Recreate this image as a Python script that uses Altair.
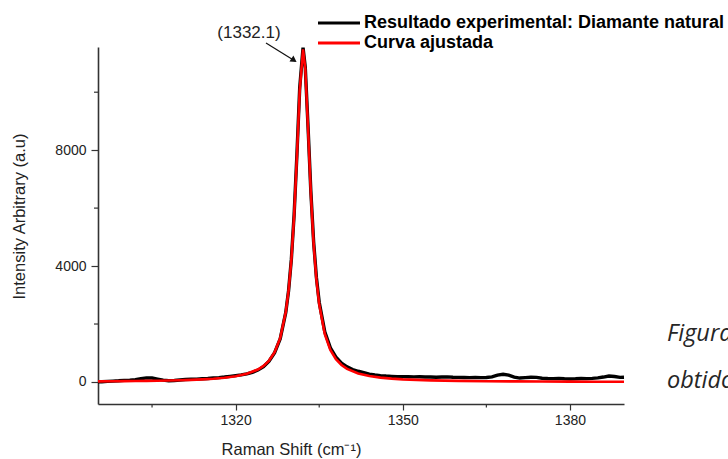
import altair as alt
import pandas as pd

# ---------------- data ----------------
fit_x = [1295.3, 1298, 1300, 1302, 1304, 1306, 1308, 1310, 1312, 1314, 1316, 1318, 1320,
         1322, 1324, 1325, 1326, 1327, 1328, 1329, 1329.5, 1330, 1330.5, 1331, 1331.5,
         1332.1, 1332.5, 1333, 1333.5, 1334, 1334.5, 1335, 1336, 1337, 1338, 1339, 1340,
         1342, 1344, 1346, 1348, 1350, 1355, 1360, 1365, 1370, 1375, 1380, 1385, 1389.7]
fit_y = [22, 25, 28, 32, 37, 43, 50, 60, 72, 89, 112, 146, 197,
         281, 431, 555, 738, 1028, 1515, 2415, 3153, 4217, 5740, 7796, 10065,
         11480, 10805, 8721, 6502, 4763, 3532, 2679, 1654, 1106, 786, 586, 452,
         292, 204, 150, 115, 91, 56, 38, 27, 20, 16, 13, 10, 9]

exp_x = [1295.3, 1296, 1297, 1298, 1299, 1300, 1301, 1302, 1303, 1304, 1305, 1306, 1307,
         1308, 1309, 1310, 1311, 1312, 1313, 1314, 1315, 1316, 1317, 1318, 1319, 1320,
         1321, 1322, 1323, 1324, 1325, 1326, 1327, 1328, 1329, 1329.5, 1330, 1330.5,
         1331, 1331.5, 1332.1, 1332.5, 1333, 1333.5, 1334, 1334.5, 1335, 1336, 1337,
         1338, 1339, 1340, 1341, 1342, 1343, 1344, 1345, 1346, 1347, 1348, 1349, 1350,
         1351, 1352, 1353, 1354, 1355, 1356, 1357, 1358, 1359, 1360, 1361, 1362, 1363,
         1364, 1365, 1366, 1367, 1368, 1369, 1370, 1371, 1372, 1373, 1374, 1375, 1376,
         1377, 1378, 1379, 1380, 1381, 1382, 1383, 1384, 1385, 1386, 1387, 1388, 1389,
         1389.7]
exp_y = [5, 10, 20, 30, 40, 55, 65, 80, 110, 140, 135, 100, 65,
         45, 50, 70, 85, 95, 100, 110, 120, 135, 150, 170, 195, 220,
         245, 280, 330, 410, 530, 720, 1010, 1490, 2400, 3150, 4230, 5780,
         7850, 10150, 11540, 10860, 8790, 6570, 4830, 3600, 2750, 1730, 1180,
         860, 650, 520, 430, 370, 320, 270, 240, 220, 205, 195, 185, 185,
         180, 175, 180, 170, 172, 165, 170, 175, 165, 160, 155, 150, 160,
         150, 155, 175, 235, 265, 235, 170, 135, 150, 165, 160, 130, 120,
         115, 125, 110, 105, 110, 120, 115, 125, 140, 170, 205, 190, 160,
         165]

x_major = [1320, 1350, 1380]
x_minor = [1305, 1335, 1365]
y_major = [0, 4000, 8000]
y_minor = [2000, 6000, 10000]
x_domain = [1295.3, 1389.7]
y_domain = [-760, 11560]

series_names = ["Resultado experimental: Diamante natural", "Curva ajustada"]
series_colors = ["#000000", "#ff0000"]
peak_label = ["(1332.1)"]
x_title = "Raman Shift (cm⁻¹)"
y_title = "Intensity Arbitrary (a.u)"
side_text = ["Figura", "obtido"]

# ---------------- layout ----------------
W, H = 526, 357
AX = "#333333"
FONT = "Liberation Sans"

xs = alt.Scale(domain=x_domain, nice=False, zero=False)
ys = alt.Scale(domain=y_domain, nice=False, zero=False)

xaxis = alt.Axis(values=x_major, format="d", title=x_title, tickSize=6, labelPadding=3,
                 titleX=193, titleY=45, titleAlign="center", titleBaseline="middle",
                 grid=False)
yaxis = alt.Axis(values=y_major, format="d", title=y_title, tickSize=7, labelPadding=5,
                 titleX=-79, titleY=169, titleAlign="center", titleBaseline="middle",
                 grid=False)

df_exp = pd.DataFrame({"x": exp_x, "y": exp_y})
df_fit = pd.DataFrame({"x": fit_x, "y": fit_y})

exp_line = alt.Chart(df_exp).mark_line(color=series_colors[0], strokeWidth=3.4).encode(
    x=alt.X("x:Q", scale=xs, axis=xaxis), y=alt.Y("y:Q", scale=ys, axis=yaxis))
fit_line = alt.Chart(df_fit).mark_line(color=series_colors[1], strokeWidth=2.6).encode(
    x=alt.X("x:Q", scale=xs, axis=xaxis), y=alt.Y("y:Q", scale=ys, axis=yaxis))

xminor = alt.Chart(pd.DataFrame({"x": x_minor})).mark_rule(color=AX, strokeWidth=1.2).encode(
    x=alt.X("x:Q", scale=xs, axis=xaxis), y=alt.value(H), y2=alt.value(H + 3.5))
yminor = alt.Chart(pd.DataFrame({"y": y_minor})).mark_rule(color=AX, strokeWidth=1.2).encode(
    y=alt.Y("y:Q", scale=ys, axis=yaxis), x=alt.value(-4), x2=alt.value(0))

# legend (custom)
leg_layers = []
for i, (name, col) in enumerate(zip(series_names, series_colors)):
    ly = -24 + i * 20
    d = pd.DataFrame({"label": [name]})
    leg_layers.append(alt.Chart(d).mark_rule(color=col, strokeWidth=3.2).encode(
        x=alt.value(220), x2=alt.value(262), y=alt.value(ly)))
    leg_layers.append(alt.Chart(d).mark_text(align="left", baseline="middle", font=FONT,
                                             fontSize=18, fontWeight="bold", color="#000").encode(
        x=alt.value(266), y=alt.value(ly), text="label:N"))

# peak annotation
pk = pd.DataFrame({"label": peak_label})
peak_text = alt.Chart(pk).mark_text(align="center", baseline="middle", font=FONT, fontSize=17,
                                    color="#222").encode(
    x=alt.value(151), y=alt.value(-14), text="label:N")
arrow_line = alt.Chart(pk).mark_rule(color="#111", strokeWidth=1.2).encode(
    x=alt.value(168), y=alt.value(-4), x2=alt.value(197), y2=alt.value(14))
arrow_head = alt.Chart(pk).mark_point(shape="triangle-up", filled=True, color="#111",
                                      size=50, angle=123.7, opacity=1).encode(
    x=alt.value(196), y=alt.value(13.2))

# surrounding document text at the right edge
side_layers = []
for i, t in enumerate(side_text):
    side_layers.append(alt.Chart(pd.DataFrame({"t": [t]})).mark_text(
        align="left", baseline="middle", font="Open Sans", fontSize=23.5, fontStyle="italic",
        color="#262626").encode(x=alt.value(569), y=alt.value(287 + i * 47), text="t:N"))

chart = alt.layer(
    exp_line, fit_line, xminor, yminor, *leg_layers, peak_text, arrow_line, arrow_head,
    *side_layers
).properties(
    width=W, height=H,
    padding={"left": 98, "top": 47, "right": 104, "bottom": 55},
    autosize=alt.AutoSizeParams(type="none"),
    background="white",
).configure_view(stroke="transparent").configure_axis(
    domainColor=AX, domainWidth=1.6, tickColor=AX, tickWidth=1.2,
    labelFont=FONT, labelFontSize=14, labelColor="#222",
    titleFont=FONT, titleFontSize=16.5, titleFontWeight="normal", titleColor="#222",
)

chart.save("out.html", embed_options={"renderer": "svg", "actions": False})
